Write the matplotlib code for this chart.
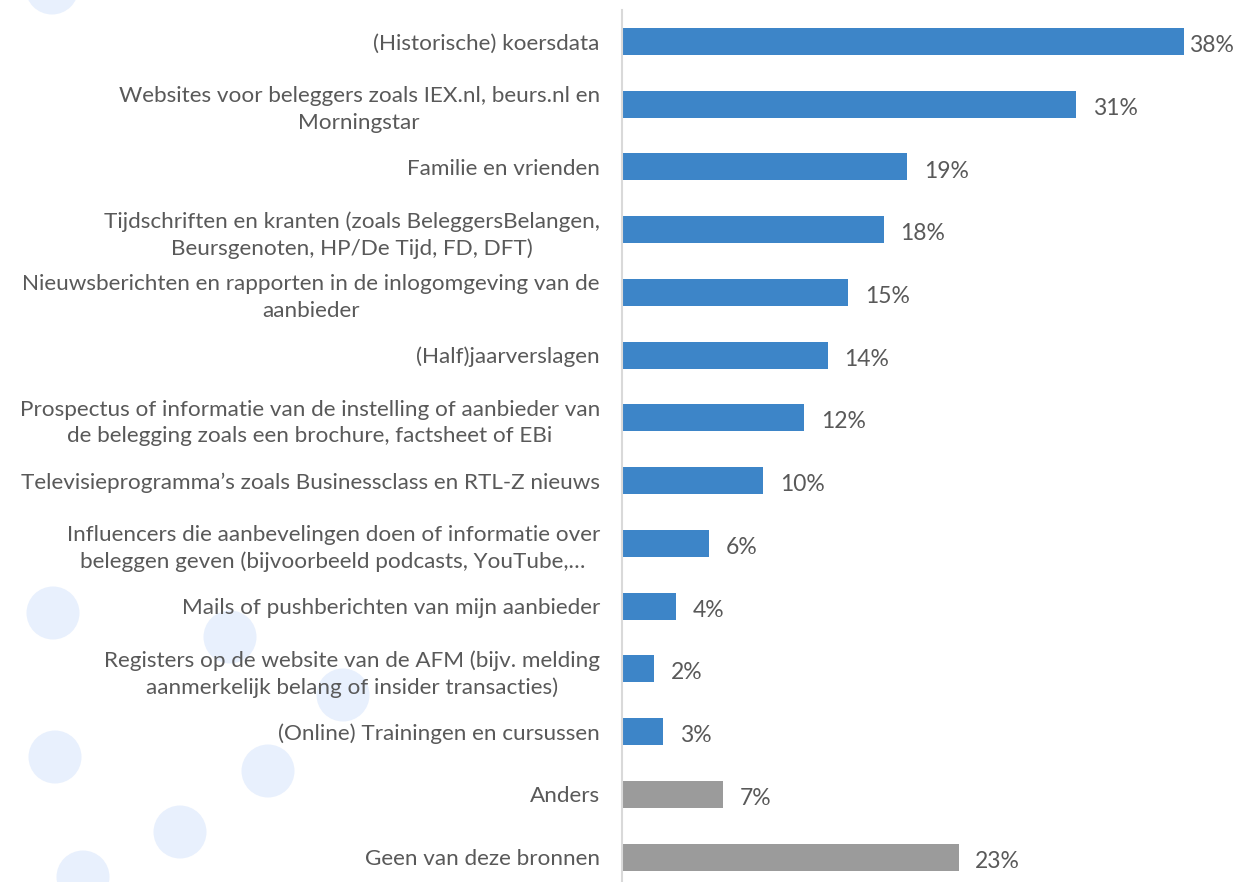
import matplotlib
matplotlib.use("Agg")
import matplotlib.pyplot as plt
from matplotlib.patches import Circle

categories = [
    "(Historische) koersdata",
    "Websites voor beleggers zoals IEX.nl, beurs.nl en\nMorningstar",
    "Familie en vrienden",
    "Tijdschriften en kranten (zoals BeleggersBelangen,\nBeursgenoten, HP/De Tijd, FD, DFT)",
    "Nieuwsberichten en rapporten in de inlogomgeving van de\naanbieder",
    "(Half)jaarverslagen",
    "Prospectus of informatie van de instelling of aanbieder van\nde belegging zoals een brochure, factsheet of EBi",
    "Televisieprogramma\u2019s zoals Businessclass en RTL-Z nieuws",
    "Influencers die aanbevelingen doen of informatie over\nbeleggen geven (bijvoorbeeld podcasts, YouTube,\u2026",
    "Mails of pushberichten van mijn aanbieder",
    "Registers op de website van de AFM (bijv. melding\naanmerkelijk belang of insider transacties)",
    "(Online) Trainingen en cursussen",
    "Anders",
    "Geen van deze bronnen",
]
values = [38.2, 30.9, 19.4, 17.8, 15.4, 14.0, 12.4, 9.6, 5.9, 3.7, 2.2, 2.8, 6.9, 22.9]
labels = ["38%", "31%", "19%", "18%", "15%", "14%", "12%", "10%", "6%", "4%", "2%", "3%", "7%", "23%"]
groups = ["source"] * 12 + ["other"] * 2

BLUE = "#3d85c8"
GRAY = "#9b9b9b"
TEXT = "#595959"

W, H = 1238, 882
fig = plt.figure(figsize=(W / 100, H / 100), dpi=100)
plt.rcParams['font.family'] = ['Lato', 'DejaVu Sans']

# decorative background circles
bg = fig.add_axes([0, 0, 1, 1], zorder=0)
bg.set_xlim(0, W)
bg.set_ylim(H, 0)
bg.set_aspect('equal')
bg.axis('off')
for (cx, cy) in [(52, -12), (53, 613), (230, 637), (343, 695), (55, 757), (268, 771), (180, 832), (83, 877)]:
    bg.add_patch(Circle((cx, cy), 26.5, color="#e8f0fd", lw=0))

x0 = 622 / W
ax = fig.add_axes([x0, 0, 1 - x0, 1 - 10 / H], zorder=1)
ax.patch.set_alpha(0)
n = len(categories)
ypos = list(range(n))
colors = [BLUE if g == "source" else GRAY for g in groups]
ax.barh(ypos, values, height=0.43, color=colors, zorder=2)
ax.set_xlim(0, (W - 622) / 14.7)
ax.set_ylim(13 + (882 - 857) / 62.77, -0.5)

for i, (v, lab) in enumerate(zip(values, labels)):
    off = 4 if i == 0 else 12
    ax.annotate(lab, (v, i), xytext=(off, -3), textcoords="offset points",
                ha="left", va="center", fontsize=16.5, color=TEXT, annotation_clip=False)

ax.set_yticks(ypos)
ax.set_yticklabels(categories, fontsize=16.2, color=TEXT, linespacing=1.4)
for t in ax.get_yticklabels():
    t.set_horizontalalignment("right")
    t.set_multialignment("center")
ax.tick_params(axis='y', length=0, pad=16)
ax.set_xticks([])
for s in ["top", "right", "bottom"]:
    ax.spines[s].set_visible(False)
ax.spines["left"].set_color("#d9d9d9")
ax.spines["left"].set_linewidth(1.5)

fig.savefig("out.png", dpi=100)
